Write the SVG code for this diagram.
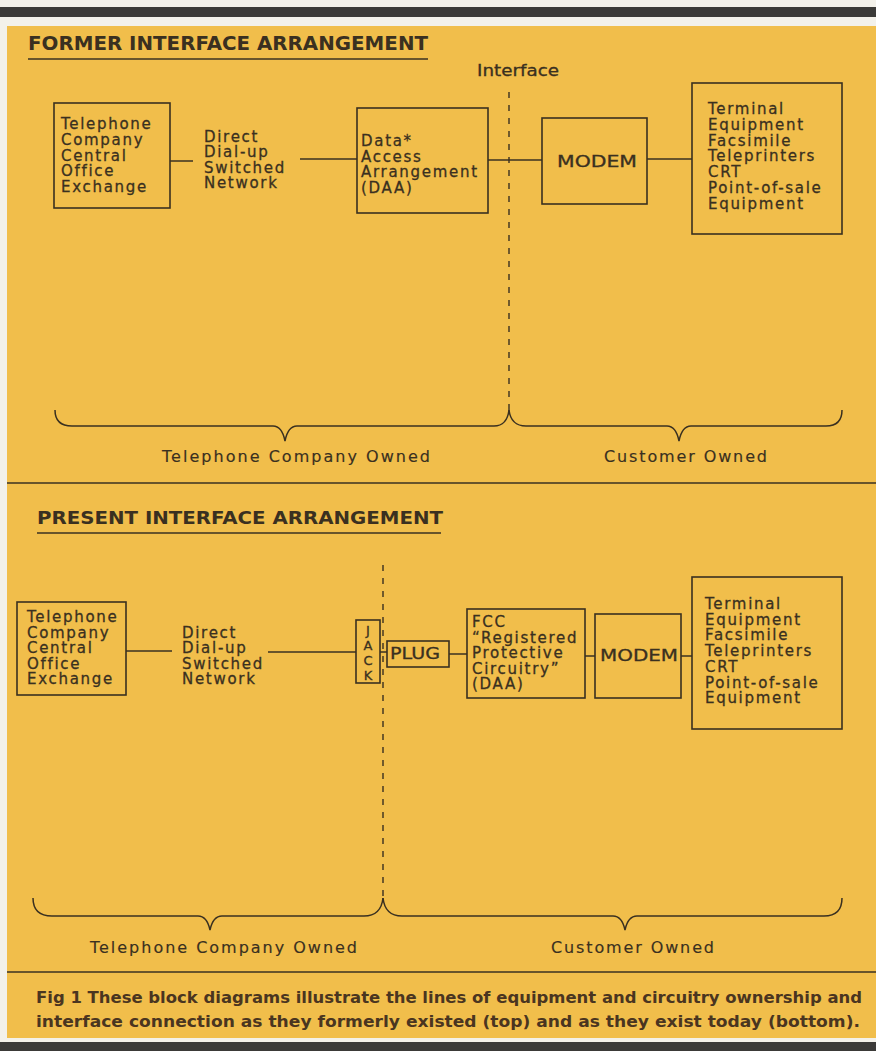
<svg xmlns="http://www.w3.org/2000/svg" width="876" height="1051" viewBox="0 0 876 1051">
<style>
.bg{fill:#f3f1ea}
.bar{fill:#3b3a38}
.panel{fill:#f1be4b}
.box{fill:none;stroke:#3a3020;stroke-width:1.6}
.ln{fill:none;stroke:#3a3020;stroke-width:1.5}
.dash{fill:none;stroke:#3a3020;stroke-width:1.4;stroke-dasharray:6 7}
.t{font-family:"DejaVu Sans","Liberation Sans",sans-serif;font-size:15px;fill:#3a3020;stroke:#3a3020;stroke-width:0.3;letter-spacing:1.7px}
.jk{font-family:"DejaVu Sans","Liberation Sans",sans-serif;font-size:13px;fill:#3a3020;stroke:#3a3020;stroke-width:0.3;text-anchor:middle}
.own{font-family:"DejaVu Sans","Liberation Sans",sans-serif;font-size:16px;fill:#3a3020;stroke:#3a3020;stroke-width:0.15}
.hd{font-family:"DejaVu Sans","Liberation Sans",sans-serif;font-weight:bold;fill:#3a3020}
.cap{font-family:"DejaVu Sans","Liberation Sans",sans-serif;font-weight:bold;font-size:15px;fill:#4a3520}
</style>
<rect class="bg" x="0" y="0" width="876" height="1051"/>
<rect class="bar" x="0" y="7" width="876" height="10"/>
<rect class="panel" x="7" y="26" width="869" height="1012"/>
<rect class="bar" x="0" y="1042" width="876" height="9"/>

<g id="top-section">
  <text class="hd" x="28" y="50" font-size="19" textLength="400" lengthAdjust="spacingAndGlyphs">FORMER INTERFACE ARRANGEMENT</text>
  <line class="ln" x1="28" y1="59" x2="428" y2="59"/>
  <text class="t" x="477" y="76" textLength="82" lengthAdjust="spacingAndGlyphs" style="letter-spacing:0">Interface</text>
</g>

<g id="connectors">
  <line class="dash" x1="509" y1="92" x2="509" y2="410"/>
  <line class="ln" x1="170" y1="161" x2="193" y2="161"/>
  <line class="ln" x1="300" y1="159" x2="357" y2="159"/>
  <line class="ln" x1="488" y1="160" x2="542" y2="160"/>
  <line class="ln" x1="647" y1="159" x2="692" y2="159"/>
  <path class="ln" d="M55,410 Q55,426 72,426 L273,426 Q282,426 285,441 Q288,426 297,426 L494,426 Q507,426 509,410"/>
  <path class="ln" d="M509,410 Q511,426 526,426 L667,426 Q676,426 679,441 Q682,426 691,426 L826,426 Q842,426 842,410"/>
  <line class="ln" x1="7" y1="483" x2="876" y2="483"/>

  <line class="dash" x1="383" y1="565" x2="383" y2="900"/>
  <line class="ln" x1="126" y1="651" x2="172" y2="651"/>
  <line class="ln" x1="268" y1="652" x2="356" y2="652"/>
  <line class="ln" x1="380" y1="652" x2="387" y2="652"/>
  <line class="ln" x1="449" y1="654" x2="467" y2="654"/>
  <line class="ln" x1="585" y1="656" x2="595" y2="656"/>
  <line class="ln" x1="681" y1="656" x2="692" y2="656"/>
  <path class="ln" d="M33,898 Q33,916 52,916 L198,916 Q207,916 210,930 Q213,916 222,916 L364,916 Q381,916 383,898"/>
  <path class="ln" d="M383,898 Q385,916 402,916 L613,916 Q622,916 625,930 Q628,916 637,916 L824,916 Q842,916 842,898"/>
  <line class="ln" x1="7" y1="972" x2="876" y2="972"/>
</g>

<g id="f-exchange">
  <rect class="box" x="54" y="103" width="116" height="105"/>
  <text class="t"><tspan x="61" y="129">Telephone</tspan><tspan x="61" y="144.8">Company</tspan><tspan x="61" y="160.6">Central</tspan><tspan x="61" y="176.4">Office</tspan><tspan x="61" y="192.2">Exchange</tspan></text>
</g>
<g id="f-network">
  <text class="t"><tspan x="204" y="141.5">Direct</tspan><tspan x="204" y="157">Dial-up</tspan><tspan x="204" y="172.5">Switched</tspan><tspan x="204" y="188">Network</tspan></text>
</g>
<g id="f-daa">
  <rect class="box" x="357" y="108" width="131" height="105"/>
  <text class="t"><tspan x="361" y="146">Data*</tspan><tspan x="361" y="161.5">Access</tspan><tspan x="361" y="177">Arrangement</tspan><tspan x="361" y="192.5">(DAA)</tspan></text>
</g>
<g id="f-modem">
  <rect class="box" x="542" y="118" width="105" height="86"/>
  <text class="t" x="557" y="167" textLength="80" lengthAdjust="spacingAndGlyphs" style="letter-spacing:0">MODEM</text>
</g>
<g id="f-terminal">
  <rect class="box" x="692" y="83" width="150" height="151"/>
  <text class="t"><tspan x="708" y="114">Terminal</tspan><tspan x="708" y="129.8">Equipment</tspan><tspan x="708" y="145.6">Facsimile</tspan><tspan x="708" y="161.4">Teleprinters</tspan><tspan x="708" y="177.2">CRT</tspan><tspan x="708" y="193">Point-of-sale</tspan><tspan x="708" y="208.8">Equipment</tspan></text>
</g>
<g id="f-owners">
  <text class="own" x="162" y="462" textLength="268" lengthAdjust="spacing">Telephone Company Owned</text>
  <text class="own" x="604" y="462" textLength="163" lengthAdjust="spacing">Customer Owned</text>
</g>

<g id="bottom-section">
  <text class="hd" x="37" y="524" font-size="17" textLength="406" lengthAdjust="spacingAndGlyphs">PRESENT INTERFACE ARRANGEMENT</text>
  <line class="ln" x1="37" y1="533" x2="441" y2="533"/>
</g>
<g id="p-exchange">
  <rect class="box" x="17" y="602" width="109" height="93"/>
  <text class="t"><tspan x="27" y="622">Telephone</tspan><tspan x="27" y="637.5">Company</tspan><tspan x="27" y="653">Central</tspan><tspan x="27" y="668.5">Office</tspan><tspan x="27" y="684">Exchange</tspan></text>
</g>
<g id="p-network">
  <text class="t"><tspan x="182" y="637.5">Direct</tspan><tspan x="182" y="653">Dial-up</tspan><tspan x="182" y="668.5">Switched</tspan><tspan x="182" y="684">Network</tspan></text>
</g>
<g id="p-jack">
  <rect class="box" x="356" y="620" width="24" height="63"/>
  <text class="jk"><tspan x="368" y="635">J</tspan><tspan x="368" y="650">A</tspan><tspan x="368" y="665">C</tspan><tspan x="368" y="680">K</tspan></text>
</g>
<g id="p-plug">
  <rect class="box" x="387" y="641" width="62" height="26"/>
  <text class="t" x="390" y="659" textLength="50" lengthAdjust="spacingAndGlyphs" style="letter-spacing:0">PLUG</text>
</g>
<g id="p-daa">
  <rect class="box" x="467" y="609" width="118" height="89"/>
  <text class="t"><tspan x="472" y="627">FCC</tspan><tspan x="472" y="642.5">“Registered</tspan><tspan x="472" y="658">Protective</tspan><tspan x="472" y="673.5">Circuitry”</tspan><tspan x="472" y="689">(DAA)</tspan></text>
</g>
<g id="p-modem">
  <rect class="box" x="595" y="614" width="86" height="84"/>
  <text class="t" x="600" y="661" textLength="78" lengthAdjust="spacingAndGlyphs" style="letter-spacing:0">MODEM</text>
</g>
<g id="p-terminal">
  <rect class="box" x="692" y="577" width="150" height="152"/>
  <text class="t"><tspan x="705" y="609">Terminal</tspan><tspan x="705" y="624.7">Equipment</tspan><tspan x="705" y="640.4">Facsimile</tspan><tspan x="705" y="656.1">Teleprinters</tspan><tspan x="705" y="671.8">CRT</tspan><tspan x="705" y="687.5">Point-of-sale</tspan><tspan x="705" y="703.2">Equipment</tspan></text>
</g>
<g id="p-owners">
  <text class="own" x="90" y="953" textLength="267" lengthAdjust="spacing">Telephone Company Owned</text>
  <text class="own" x="551" y="953" textLength="163" lengthAdjust="spacing">Customer Owned</text>
</g>

<g id="caption">
  <text class="cap" x="36" y="1003" textLength="826" lengthAdjust="spacingAndGlyphs">Fig 1  These block diagrams illustrate the lines of equipment and circuitry ownership and</text>
  <text class="cap" x="36" y="1027" textLength="824" lengthAdjust="spacingAndGlyphs">interface connection as they formerly existed (top) and as they exist today (bottom).</text>
</g>
</svg>
